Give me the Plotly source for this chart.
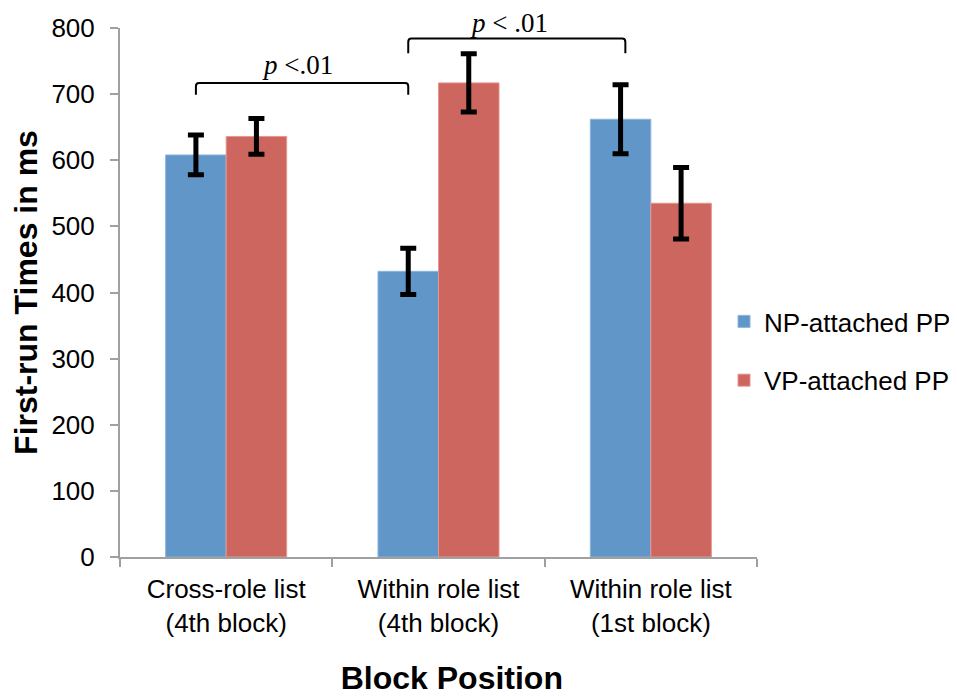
import plotly.graph_objects as go

categories = ["Cross-role list<br>(4th block)", "Within role list<br>(4th block)", "Within role list<br>(1st block)"]
np_values = [608, 432, 662]
np_errors = [30, 35, 52]
vp_values = [636, 717, 535]
vp_errors = [27, 44, 54]
series_names = ["NP-attached PP", "VP-attached PP"]
y_ticks = [0, 100, 200, 300, 400, 500, 600, 700, 800]
y_max = 800

BLUE = "rgb(97,150,201)"
RED = "rgb(205,102,94)"

fig = go.Figure()
fig.add_trace(go.Bar(
    x=categories, y=np_values, name=series_names[0], legendgroup="a",
    marker=dict(color=BLUE, line=dict(color="rgb(140,180,220)", width=1)),
    error_y=dict(type="data", array=np_errors, color="black", thickness=5, width=8),
))
fig.add_trace(go.Bar(
    x=categories, y=vp_values, name=series_names[1], legendgroup="b",
    marker=dict(color=RED, line=dict(color="rgb(230,150,145)", width=1)),
    error_y=dict(type="data", array=vp_errors, color="black", thickness=5, width=8),
))

bargap = 0.43
n = len(categories)

def to_paper(pos):
    return (pos + 0.5) / n

off = -(1 - bargap) / 4
dx = 0.005
dy = 5

def bracket(xa, xb, ytop, ybot):
    x0, x1 = to_paper(xa), to_paper(xb)
    return (f"M{x0},{ybot} L{x0},{ytop-dy} Q{x0},{ytop} {x0+dx},{ytop} "
            f"L{x1-dx},{ytop} Q{x1},{ytop} {x1},{ytop-dy} L{x1},{ybot}")

fig.add_shape(type="path", xref="paper", yref="y",
              path=bracket(0 + off, 1 + off, 717, 699),
              line=dict(color="black", width=2))
fig.add_shape(type="path", xref="paper", yref="y",
              path=bracket(1 + off, 1.88, 784, 762),
              line=dict(color="black", width=2))

ann_font = dict(family="Liberation Serif", size=27, color="black")
fig.add_annotation(xref="paper", yref="paper", x=0.278, y=744 / y_max, text="<i>p</i> <.01",
                   xanchor="center", yanchor="middle", showarrow=False, font=ann_font)
fig.add_annotation(xref="paper", yref="paper", x=0.611, y=808 / y_max, text="<i>p</i> < .01",
                   xanchor="center", yanchor="middle", showarrow=False, font=ann_font)

# page body has an 8px default margin, so the figure is 8px smaller on each side
fig.update_layout(
    width=949, height=688,
    margin=dict(l=112, r=200, t=20, b=139, autoexpand=False),
    paper_bgcolor="white", plot_bgcolor="white",
    barmode="group", bargap=bargap, bargroupgap=0,
    font=dict(family="Liberation Sans, Arial", size=26, color="black"),
    showlegend=True,
    legend=dict(xref="container", yref="container", x=0.7545, xanchor="left",
                y=0.5015, yanchor="middle",
                font=dict(size=26), tracegroupgap=22, bgcolor="rgba(0,0,0,0)"),
)
fig.update_xaxes(
    type="category", range=[-0.5, n - 0.5], tickson="boundaries",
    ticks="outside", ticklen=8, tickcolor="#a0a0a0", tickwidth=2,
    showline=True, linecolor="#a0a0a0", linewidth=2, showgrid=False,
    tickfont=dict(size=26), ticklabelstandoff=8, automargin=False,
    title=dict(text="<b>&#160;&#160;&#160;Block Position</b>", font=dict(size=32), standoff=36),
)
fig.update_yaxes(
    range=[0, y_max], tickvals=y_ticks, ticks="outside", ticklen=8,
    tickcolor="#a0a0a0", tickwidth=2, showline=True, linecolor="#a0a0a0", linewidth=2,
    showgrid=False, zeroline=False, tickfont=dict(size=26), ticklabelstandoff=10,
    automargin=False,
    title=dict(text="<b>First-run Times in ms</b>", font=dict(size=32), standoff=9),
)

fig.write_html("out.html")
